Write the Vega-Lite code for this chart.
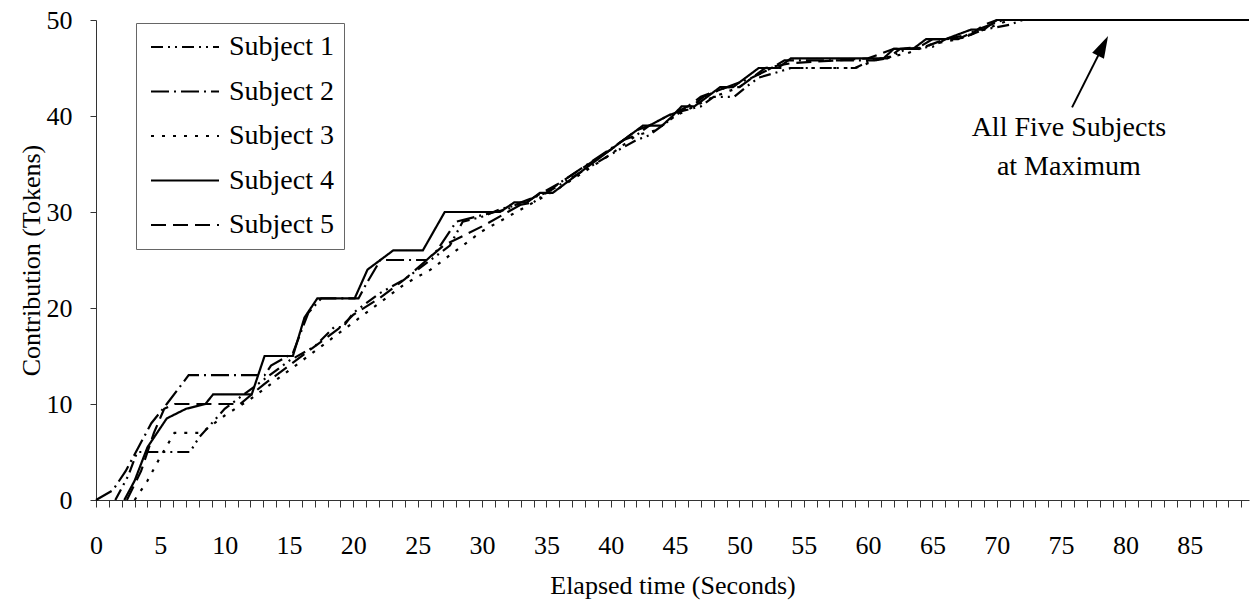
{
  "$schema": "https://vega.github.io/schema/vega-lite/v6.json",
  "width": 1153,
  "height": 480,
  "autosize": {"type": "none"},
  "padding": {"left": 96, "top": 20, "right": 10, "bottom": 106},
  "background": "white",
  "config": {
    "view": {"stroke": null},
    "font": "Liberation Serif",
    "axis": {
      "grid": false,
      "domainColor": "#333333",
      "tickColor": "#333333",
      "labelColor": "black",
      "titleColor": "black",
      "labelFont": "Liberation Serif",
      "titleFont": "Liberation Serif",
      "labelFontSize": 26,
      "titleFontSize": 26,
      "titleFontWeight": "normal"
    }
  },
  "datasets": {
    "lines": [
      {"s":"Subject 1","t":1.5,"v":0},{"s":"Subject 1","t":2.5,"v":2.5},{"s":"Subject 1","t":3.2,"v":5},{"s":"Subject 1","t":7.3,"v":5},{"s":"Subject 1","t":8,"v":6.5},{"s":"Subject 1","t":9,"v":8},{"s":"Subject 1","t":10,"v":9.5},{"s":"Subject 1","t":11,"v":10.5},{"s":"Subject 1","t":13,"v":12.5},{"s":"Subject 1","t":15,"v":14.5},{"s":"Subject 1","t":17,"v":16},{"s":"Subject 1","t":18.5,"v":18},{"s":"Subject 1","t":19.2,"v":18},{"s":"Subject 1","t":20,"v":19.5},{"s":"Subject 1","t":22,"v":21.5},{"s":"Subject 1","t":24,"v":23},{"s":"Subject 1","t":26,"v":25},{"s":"Subject 1","t":27.5,"v":26.5},{"s":"Subject 1","t":28.5,"v":29},{"s":"Subject 1","t":30,"v":29.5},{"s":"Subject 1","t":31.4,"v":30.3},{"s":"Subject 1","t":32,"v":30.5},{"s":"Subject 1","t":34,"v":31},{"s":"Subject 1","t":35,"v":32},{"s":"Subject 1","t":40,"v":36},{"s":"Subject 1","t":42,"v":37.5},{"s":"Subject 1","t":43,"v":38},{"s":"Subject 1","t":44.5,"v":39.5},{"s":"Subject 1","t":45.5,"v":40.5},{"s":"Subject 1","t":47,"v":41},{"s":"Subject 1","t":48,"v":42},{"s":"Subject 1","t":49.6,"v":42},{"s":"Subject 1","t":50.5,"v":43},{"s":"Subject 1","t":51.5,"v":44},{"s":"Subject 1","t":52.8,"v":44.5},{"s":"Subject 1","t":54,"v":45},{"s":"Subject 1","t":59,"v":45},{"s":"Subject 1","t":60.5,"v":46},{"s":"Subject 1","t":61.5,"v":46},{"s":"Subject 1","t":63,"v":47},{"s":"Subject 1","t":65,"v":47.2},{"s":"Subject 1","t":66,"v":48},{"s":"Subject 1","t":67.5,"v":48.2},{"s":"Subject 1","t":69,"v":49},{"s":"Subject 1","t":71,"v":49.5},{"s":"Subject 1","t":72,"v":50},{"s":"Subject 1","t":89.6,"v":50},

      {"s":"Subject 2","t":0,"v":0},{"s":"Subject 2","t":1.3,"v":1},{"s":"Subject 2","t":2.3,"v":3},{"s":"Subject 2","t":3.3,"v":5.5},{"s":"Subject 2","t":4.3,"v":8},{"s":"Subject 2","t":5.5,"v":10},{"s":"Subject 2","t":7.2,"v":13},{"s":"Subject 2","t":13.1,"v":13},{"s":"Subject 2","t":13.6,"v":14},{"s":"Subject 2","t":15.3,"v":15.3},{"s":"Subject 2","t":16.5,"v":19.5},{"s":"Subject 2","t":17.5,"v":21},{"s":"Subject 2","t":20.4,"v":21},{"s":"Subject 2","t":21,"v":22.5},{"s":"Subject 2","t":22.1,"v":25},{"s":"Subject 2","t":25.7,"v":25},{"s":"Subject 2","t":26.5,"v":26},{"s":"Subject 2","t":28,"v":29},{"s":"Subject 2","t":29.5,"v":29.5},{"s":"Subject 2","t":31,"v":30},{"s":"Subject 2","t":32,"v":30.3},{"s":"Subject 2","t":33,"v":31},{"s":"Subject 2","t":35,"v":32},{"s":"Subject 2","t":36,"v":33},{"s":"Subject 2","t":41,"v":37.5},{"s":"Subject 2","t":42,"v":38},{"s":"Subject 2","t":43,"v":39},{"s":"Subject 2","t":44.4,"v":40},{"s":"Subject 2","t":46.3,"v":41},{"s":"Subject 2","t":47.2,"v":42},{"s":"Subject 2","t":49,"v":43},{"s":"Subject 2","t":50,"v":43.5},{"s":"Subject 2","t":51,"v":44},{"s":"Subject 2","t":52.5,"v":45},{"s":"Subject 2","t":53.5,"v":45.8},{"s":"Subject 2","t":60.5,"v":45.8},{"s":"Subject 2","t":61.5,"v":46},{"s":"Subject 2","t":62.5,"v":47},{"s":"Subject 2","t":64,"v":47.2},{"s":"Subject 2","t":65,"v":48},{"s":"Subject 2","t":67,"v":48},{"s":"Subject 2","t":68.5,"v":49},{"s":"Subject 2","t":69.5,"v":49.5},{"s":"Subject 2","t":70.5,"v":50},{"s":"Subject 2","t":89.6,"v":50},

      {"s":"Subject 3","t":3,"v":0},{"s":"Subject 3","t":4,"v":2},{"s":"Subject 3","t":5,"v":4.5},{"s":"Subject 3","t":6.1,"v":7},{"s":"Subject 3","t":8.2,"v":7},{"s":"Subject 3","t":10,"v":8.8},{"s":"Subject 3","t":12,"v":10.5},{"s":"Subject 3","t":14,"v":12.5},{"s":"Subject 3","t":16,"v":14.5},{"s":"Subject 3","t":18,"v":16.5},{"s":"Subject 3","t":20,"v":18.5},{"s":"Subject 3","t":22,"v":20.5},{"s":"Subject 3","t":24,"v":22.5},{"s":"Subject 3","t":26,"v":24},{"s":"Subject 3","t":28,"v":26},{"s":"Subject 3","t":30,"v":28},{"s":"Subject 3","t":32,"v":29.5},{"s":"Subject 3","t":34,"v":31},{"s":"Subject 3","t":36,"v":32.5},{"s":"Subject 3","t":40,"v":36},{"s":"Subject 3","t":42,"v":38},{"s":"Subject 3","t":43.5,"v":38.5},{"s":"Subject 3","t":45,"v":40},{"s":"Subject 3","t":46.5,"v":41},{"s":"Subject 3","t":48,"v":42},{"s":"Subject 3","t":50,"v":43},{"s":"Subject 3","t":51,"v":44},{"s":"Subject 3","t":52.5,"v":45},{"s":"Subject 3","t":59,"v":45},{"s":"Subject 3","t":61,"v":46},{"s":"Subject 3","t":63,"v":46.5},{"s":"Subject 3","t":65,"v":47.5},{"s":"Subject 3","t":67,"v":48},{"s":"Subject 3","t":69,"v":49},{"s":"Subject 3","t":71,"v":50},{"s":"Subject 3","t":89.6,"v":50},

      {"s":"Subject 4","t":2.2,"v":0},{"s":"Subject 4","t":3,"v":2},{"s":"Subject 4","t":4,"v":5.5},{"s":"Subject 4","t":5.5,"v":8.5},{"s":"Subject 4","t":7,"v":9.5},{"s":"Subject 4","t":8.5,"v":10},{"s":"Subject 4","t":9.1,"v":11},{"s":"Subject 4","t":12.1,"v":11},{"s":"Subject 4","t":13.1,"v":15},{"s":"Subject 4","t":15.3,"v":15},{"s":"Subject 4","t":16.2,"v":19},{"s":"Subject 4","t":17.2,"v":21},{"s":"Subject 4","t":20.1,"v":21},{"s":"Subject 4","t":21.1,"v":24},{"s":"Subject 4","t":23.1,"v":26},{"s":"Subject 4","t":25.4,"v":26},{"s":"Subject 4","t":27.1,"v":30},{"s":"Subject 4","t":31.4,"v":30},{"s":"Subject 4","t":32.5,"v":31},{"s":"Subject 4","t":33.5,"v":31},{"s":"Subject 4","t":34.5,"v":32},{"s":"Subject 4","t":35.5,"v":32},{"s":"Subject 4","t":41.5,"v":38},{"s":"Subject 4","t":42.5,"v":39},{"s":"Subject 4","t":44,"v":39},{"s":"Subject 4","t":44.8,"v":40},{"s":"Subject 4","t":45.5,"v":41},{"s":"Subject 4","t":46.5,"v":41},{"s":"Subject 4","t":47.5,"v":42},{"s":"Subject 4","t":48.5,"v":43},{"s":"Subject 4","t":49.5,"v":43},{"s":"Subject 4","t":50.5,"v":44},{"s":"Subject 4","t":51.5,"v":45},{"s":"Subject 4","t":53,"v":45},{"s":"Subject 4","t":54,"v":46},{"s":"Subject 4","t":61.2,"v":46},{"s":"Subject 4","t":62,"v":47},{"s":"Subject 4","t":63.5,"v":47},{"s":"Subject 4","t":64.5,"v":48},{"s":"Subject 4","t":66,"v":48},{"s":"Subject 4","t":67,"v":48.5},{"s":"Subject 4","t":68,"v":49},{"s":"Subject 4","t":69,"v":49},{"s":"Subject 4","t":70,"v":50},{"s":"Subject 4","t":89.6,"v":50},

      {"s":"Subject 5","t":2.4,"v":0},{"s":"Subject 5","t":3.5,"v":3},{"s":"Subject 5","t":4.5,"v":7},{"s":"Subject 5","t":5.3,"v":9.5},{"s":"Subject 5","t":6.1,"v":10},{"s":"Subject 5","t":11.2,"v":10},{"s":"Subject 5","t":13,"v":12},{"s":"Subject 5","t":15,"v":14},{"s":"Subject 5","t":17,"v":16},{"s":"Subject 5","t":19,"v":18},{"s":"Subject 5","t":20,"v":19.3},{"s":"Subject 5","t":22,"v":21},{"s":"Subject 5","t":24,"v":23},{"s":"Subject 5","t":25.7,"v":25},{"s":"Subject 5","t":27,"v":26.5},{"s":"Subject 5","t":30,"v":28.5},{"s":"Subject 5","t":32,"v":30},{"s":"Subject 5","t":34,"v":31.5},{"s":"Subject 5","t":36,"v":33},{"s":"Subject 5","t":40,"v":36.5},{"s":"Subject 5","t":42,"v":38.5},{"s":"Subject 5","t":43,"v":39},{"s":"Subject 5","t":44.4,"v":40},{"s":"Subject 5","t":46,"v":41},{"s":"Subject 5","t":47,"v":42},{"s":"Subject 5","t":49,"v":43},{"s":"Subject 5","t":50,"v":43},{"s":"Subject 5","t":51,"v":44},{"s":"Subject 5","t":52,"v":45},{"s":"Subject 5","t":54,"v":45.5},{"s":"Subject 5","t":60,"v":46},{"s":"Subject 5","t":62,"v":47},{"s":"Subject 5","t":64,"v":47},{"s":"Subject 5","t":66,"v":48},{"s":"Subject 5","t":68,"v":48.5},{"s":"Subject 5","t":69,"v":49.5},{"s":"Subject 5","t":70,"v":50},{"s":"Subject 5","t":89.6,"v":50}
    ],
    "note": [
      {"t": 75.6, "v": 38.8, "label": ["All Five Subjects", "at Maximum"]}
    ],
    "arrow": [
      {"t": 75.85, "v": 40.9, "t2": 78.26, "v2": 47.3}
    ],
    "head": [
      {"t": 78.26, "v": 47.3}
    ]
  },
  "encoding": {
    "x": {
      "field": "t", "type": "quantitative",
      "scale": {"domain": [0, 89.6], "nice": false, "zero": false},
      "axis": {
        "title": "Elapsed time (Seconds)",
        "values": [0,1,2,3,4,5,6,7,8,9,10,11,12,13,14,15,16,17,18,19,20,21,22,23,24,25,26,27,28,29,30,31,32,33,34,35,36,37,38,39,40,41,42,43,44,45,46,47,48,49,50,51,52,53,54,55,56,57,58,59,60,61,62,63,64,65,66,67,68,69,70,71,72,73,74,75,76,77,78,79,80,81,82,83,84,85,86,87,88,89],
        "labelExpr": "datum.value % 5 === 0 ? datum.label : ''",
        "labelFlush": false,
        "labelOverlap": false,
        "tickSize": 7,
        "labelPadding": 25,
        "titlePadding": 14
      }
    },
    "y": {
      "field": "v", "type": "quantitative",
      "scale": {"domain": [0, 50], "nice": false},
      "axis": {
        "title": "Contribution (Tokens)",
        "values": [0, 10, 20, 30, 40, 50],
        "tickSize": 6,
        "labelPadding": 18,
        "titlePadding": 2
      }
    }
  },
  "layer": [
    {
      "data": {"name": "lines"},
      "mark": {"type": "line", "color": "black", "strokeWidth": 2.2, "clip": false},
      "encoding": {
        "strokeDash": {
          "field": "s", "type": "nominal",
          "scale": {
            "domain": ["Subject 1", "Subject 2", "Subject 3", "Subject 4", "Subject 5"],
            "range": [[12, 5, 2, 5, 2, 5], [18, 5, 2, 5], [3, 8], [1, 0], [15, 7]]
          },
          "legend": {
            "orient": "none",
            "legendX": 40,
            "legendY": 3,
            "title": null,
            "symbolType": "M-3.4,0H3.4",
            "symbolSize": 400,
            "symbolOffset": 25,
            "symbolStrokeWidth": 1.8,
            "symbolStrokeColor": "black",
            "labelFont": "Liberation Serif",
            "labelFontSize": 28,
            "labelColor": "black",
            "labelOffset": 30,
            "rowPadding": 16.5,
            "padding": 10,
            "strokeColor": "#666666",
            "fillColor": "white"
          }
        }
      }
    },
    {
      "data": {"name": "note"},
      "mark": {"type": "text", "font": "Liberation Serif", "fontSize": 28, "color": "black", "align": "center", "baseline": "middle", "lineHeight": 39},
      "encoding": {
        "text": {"field": "label"}
      }
    },
    {
      "data": {"name": "arrow"},
      "mark": {"type": "rule", "color": "black", "strokeWidth": 2},
      "encoding": {
        "x2": {"field": "t2"},
        "y2": {"field": "v2"}
      }
    },
    {
      "data": {"name": "head"},
      "mark": {"type": "point", "shape": "M0,-1L0.6,1L-0.6,1Z", "filled": true, "size": 484, "angle": 27, "color": "black", "opacity": 1}
    }
  ]
}
